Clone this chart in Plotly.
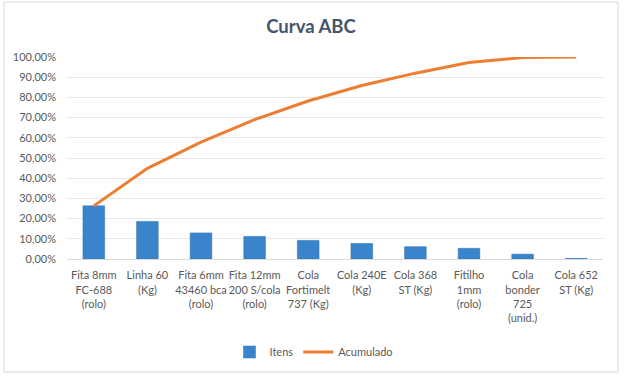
import plotly.graph_objects as go

categories = [
    "Fita 8mm<br>FC-688<br>(rolo)",
    "Linha 60<br>(Kg)",
    "Fita 6mm<br>43460 bca<br>(rolo)",
    "Fita 12mm<br>200 S/cola<br>(rolo)",
    "Cola<br>Fortimelt<br>737 (Kg)",
    "Cola 240E<br>(Kg)",
    "Cola 368<br>ST (Kg)",
    "Fitilho<br>1mm<br>(rolo)",
    "Cola<br>bonder<br>725<br>(unid.)",
    "Cola 652<br>ST (Kg)",
]
itens = [0.263, 0.186, 0.129, 0.112, 0.092, 0.077, 0.061, 0.053, 0.024, 0.003]
acumulado = [0.263, 0.449, 0.578, 0.690, 0.782, 0.859, 0.920, 0.973, 0.997, 1.000]
y_ticks = [i / 10 for i in range(11)]

FONT = "Lato, 'Open Sans', sans-serif"
TXT = "#595959"

# plot area in pixels
W, H = 628, 383
L, R, T, B = 67, 603, 57, 259
pw, ph = R - L, B - T

def px_x(x):
    return (x - L) / pw

def px_y(y):
    return (B - y) / ph

fig = go.Figure()
fig.add_trace(go.Bar(
    x=list(range(len(categories))), y=itens, name="Itens",
    marker=dict(color="#3a84cc", line=dict(color="#2f72b5", width=0.5)),
))
fig.add_trace(go.Scatter(
    x=list(range(len(categories))), y=acumulado, name="Acumulado",
    mode="lines", line=dict(color="#ED7D31", width=3),
))

fig.update_layout(
    width=W, height=H,
    margin=dict(l=L, r=W - R, t=T, b=H - B),
    paper_bgcolor="white", plot_bgcolor="white",
    separators=",.",
    bargap=0.595,
    font=dict(family=FONT, size=11, color=TXT),
    title=dict(
        text="<b>Curva ABC</b>", x=px_x(311), xref="paper",
        y=1 - 27 / H, yref="container", xanchor="center", yanchor="middle",
        font=dict(family=FONT, size=18.5, color="#44546a"),
    ),
    showlegend=True,
    legend=dict(
        orientation="h", x=px_x(314), xanchor="center",
        y=px_y(352), yanchor="middle",
        font=dict(family=FONT, size=11, color=TXT),
        itemwidth=30, tracegroupgap=0,
    ),
    shapes=[dict(
        type="rect", xref="paper", yref="paper",
        x0=px_x(4), x1=px_x(618), y0=px_y(372), y1=px_y(2),
        line=dict(color="#d9d9d9", width=1), fillcolor="rgba(0,0,0,0)",
        layer="below",
    )],
)

fig.update_xaxes(
    tickmode="array", tickvals=list(range(len(categories))), ticktext=categories,
    range=[-0.5, len(categories) - 0.5],
    showgrid=False, showline=True, linecolor="#d9d9d9", linewidth=1,
    ticks="", tickangle=0, tickfont=dict(family=FONT, size=11, color=TXT),
    ticklabelstandoff=6,
)
fig.update_yaxes(
    range=[0, 1.0], tickvals=y_ticks, tickformat=".2%",
    showgrid=True, gridcolor="#e6e6e6", gridwidth=1,
    zeroline=False, showline=False, ticks="",
    tickfont=dict(family=FONT, size=11, color=TXT),
    ticklabelstandoff=10,
)

fig.write_html(
    "out.html",
    config={"displayModeBar": False},
    post_script="document.body.style.margin='0';",
)
